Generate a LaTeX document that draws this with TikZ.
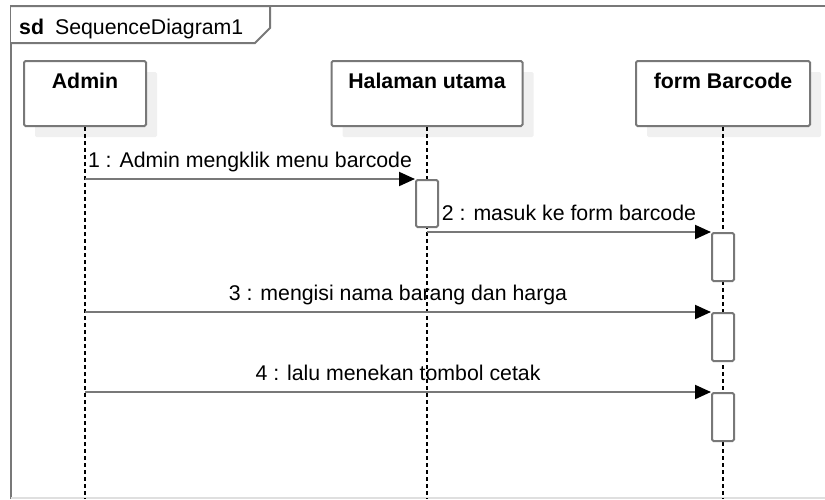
\documentclass[tikz,border=0pt]{standalone}
\usepackage{fontspec}
\setmainfont{Liberation Sans}
\usepackage{xcolor}
\definecolor{linegray}{rgb}{0.47, 0.47, 0.47}
\definecolor{shadowgray}{rgb}{0.94, 0.94, 0.94}
\usetikzlibrary{positioning,arrows.meta,shadows}

\begin{document}
\begin{tikzpicture}[x=1pt, y=-1pt,
		every node/.style={font=\fontsize{21.3}{24}\selectfont},
		head/.style={draw=linegray, line width=2pt, fill=white, rounded corners=1.5pt,
			minimum width=#1, minimum height=65pt, inner sep=0pt,
			text height=27.6pt, text depth=37.4pt, font=\fontsize{21.3}{24}\selectfont\bfseries,
			drop shadow={shadow xshift=11pt, shadow yshift=-11pt, fill=shadowgray, opacity=1}},
		lifeline/.style={line width=1.5pt, dash pattern=on 4pt off 3pt},
		actbar/.style={draw=linegray, line width=2pt, fill=white, rounded corners=1.5pt,
			minimum width=22pt, minimum height=48pt, inner sep=0pt},
		msg/.style={draw=linegray, line width=2pt, -{Triangle[length=16pt, width=14pt, black]}},
		msglabel/.style={above=6pt, inner sep=0pt, text height=15.5pt, text depth=4.5pt}]
			\useasboundingbox (0,0) rectangle (825,499);
			% frame and sd tab
			\draw [line width=2.5pt, linegray] (11,499) -- (11,6) -- (830,6);
			\draw [line width=2pt, gray!25] (11,497.5) -- (825,497.5);
			\draw [line width=2pt, linegray, fill=white] (11,6) -- (270,6) -- (270,28) -- (255,43) -- (11,43);
			\node[anchor=base west, inner sep=0pt] (sdtab) at (19,34) {\textbf{sd}\hspace{11pt}SequenceDiagram1};
			% lifeline heads
			\node[head=122pt] (admin) at (85,93.5) {Admin};
			\node[head=191pt] (halaman) at (427,93.5) {Halaman utama};
			\node[head=174pt] (formbc) at (723,93.5) {form Barcode};
			\coordinate (bottom) at (0,499);
			\draw[lifeline] (admin.south) -- (admin.south |- bottom);
			\draw[lifeline] (halaman.south) -- (halaman.south |- bottom);
			\draw[lifeline] (formbc.south) -- (formbc.south |- bottom);
			% activations
			\node[actbar, minimum height=47pt] (act1) at (427,203.5) {};
			\node[actbar] (act2) at (723,257) {};
			\node[actbar] (act3) at (723,337) {};
			\node[actbar] (act4) at (723,417) {};
			% messages
			\draw[msg] (admin |- act1.north west) -- node[msglabel] (lbl1) {1 : Admin mengklik menu barcode} (act1.north west);
			\draw[msg] (act1.south |- act2.north west) -- node[msglabel] (lbl2) {2 : masuk ke form barcode} (act2.north west);
			\draw[msg] (admin |- act3.north west) -- node[msglabel] (lbl3) {3 : mengisi nama barang dan harga} (act3.north west);
			\draw[msg] (admin |- act4.north west) -- node[msglabel] (lbl4) {4 : lalu menekan tombol cetak} (act4.north west);
		\end{tikzpicture}
\end{document}
